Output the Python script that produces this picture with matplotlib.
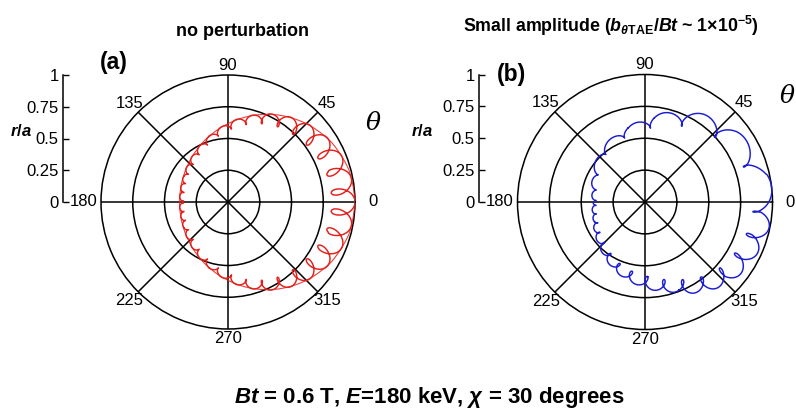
import numpy as np
import matplotlib
matplotlib.use("Agg")
import matplotlib.pyplot as plt

plt.rcParams['font.family'] = ['Liberation Sans', 'DejaVu Sans']
plt.rcParams['mathtext.fontset'] = 'custom'
plt.rcParams['mathtext.rm'] = 'Liberation Sans:bold'
plt.rcParams['mathtext.it'] = 'Liberation Sans:italic:bold'
plt.rcParams['mathtext.bf'] = 'Liberation Sans:bold'
plt.rcParams['path.simplify'] = False

# ---------------- data ----------------
theta_ticks = [0, 45, 90, 135, 180, 225, 270, 315]
r_ticks = [0, 0.25, 0.5, 0.75, 1]
r_tick_labels = ['0', '0.25', '0.5', '0.75', '1']

# (a) no perturbation : outer envelope, gyro radius, gyration step and shape vs theta (deg)
a_theta = [0, 15, 30, 45, 60, 75, 90, 105, 120, 135, 150, 165, 180,
           195, 210, 225, 240, 255, 270, 285, 300, 315, 330, 345]
a_r_out = [1.00, 0.985, 0.941, 0.873, 0.791, 0.702, 0.616, 0.541, 0.481, 0.435, 0.404, 0.386, 0.380,
           0.386, 0.404, 0.435, 0.481, 0.541, 0.616, 0.702, 0.791, 0.873, 0.941, 0.985]
a_rho = [0.090, 0.088, 0.080, 0.065, 0.045, 0.032, 0.026, 0.022, 0.020, 0.018, 0.016, 0.015, 0.015,
         0.015, 0.016, 0.018, 0.020, 0.022, 0.026, 0.032, 0.045, 0.065, 0.080, 0.088]
a_step = [0.17, 0.17, 0.16, 0.15, 0.14, 0.13, 0.125, 0.115, 0.10, 0.09, 0.08, 0.07, 0.07,
          0.07, 0.08, 0.09, 0.10, 0.115, 0.125, 0.13, 0.14, 0.15, 0.16, 0.17]
a_shape = [0.65, 0.65, 0.63, 0.65, 0.72, 0.8, 0.85, 0.9, 0.9, 0.9, 0.9, 0.9, 0.9,
           0.9, 0.9, 0.9, 0.9, 0.9, 0.85, 0.8, 0.72, 0.65, 0.63, 0.65]

# (b) small amplitude
b_theta = [0, 10, 20, 35, 55, 80, 100, 120, 135, 150, 165, 180,
           200, 225, 250, 270, 290, 305, 320, 340, 352]
b_r_out = [1.00, 1.00, 0.97, 0.92, 0.83, 0.70, 0.61, 0.56, 0.52, 0.47, 0.43, 0.41,
           0.43, 0.50, 0.60, 0.67, 0.75, 0.85, 0.93, 0.98, 1.00]
b_rho = [0.075, 0.075, 0.075, 0.07, 0.065, 0.05, 0.035, 0.027, 0.025, 0.022, 0.017, 0.014,
         0.016, 0.025, 0.035, 0.045, 0.05, 0.06, 0.07, 0.075, 0.075]
b_step = [0.40, 0.48, 0.42, 0.35, 0.30, 0.26, 0.22, 0.21, 0.20, 0.16, 0.10, 0.07,
          0.07, 0.10, 0.12, 0.14, 0.15, 0.17, 0.19, 0.20, 0.20]
b_shape = [0.7, 0.85, 1.0, 0.9, 0.85, 0.85, 1.0, 1.2, 1.2, 1.1, 0.9, 0.9,
           0.9, 0.9, 0.9, 0.85, 0.75, 0.68, 0.65, 0.65, 0.65]


def orbit(th_nodes, r_out, rho, step, shape, start_deg, ref_deg, ref_phase):
    u = np.deg2rad(np.linspace(start_deg, start_deg + 360, 30001))
    ud = np.rad2deg(u) % 360
    R = np.interp(ud, th_nodes, r_out, period=360)
    rh = np.interp(ud, th_nodes, rho, period=360)
    sp = np.interp(ud, th_nodes, step, period=360)
    asp = np.interp(ud, th_nodes, shape, period=360)
    rg = R - rh
    gx, gy = rg * np.cos(u), rg * np.sin(u)
    dx, dy = np.gradient(gx), np.gradient(gy)
    ds = np.hypot(dx, dy)
    tx, ty = dx / ds, dy / ds
    nx, ny = ty, -tx
    s = np.cumsum(ds / sp)
    iref = np.argmin(np.abs(((ud - ref_deg + 180) % 360) - 180))
    beta = 2 * np.pi * (s - s[iref]) + ref_phase
    x = gx + rh * np.cos(beta) * nx + asp * rh * np.sin(beta) * tx
    y = gy + rh * np.cos(beta) * ny + asp * rh * np.sin(beta) * ty
    return (x, y), (R * np.cos(u), R * np.sin(u))


fig = plt.figure(figsize=(7.96, 4.12), dpi=100)
W, H = 796.0, 412.0


def polar_panel(cx, cy, rad, color, traj, env, label, label_xy, theta_xy, rax_x):
    rect = [(cx - rad) / W, (H - cy - rad) / H, 2 * rad / W, 2 * rad / H]
    ax = fig.add_axes(rect, projection='polar')
    ax.set_ylim(0, 1)
    ax.set_yticks([0.25, 0.5, 0.75])
    ax.set_yticklabels([])
    ax.set_xticks(np.deg2rad(theta_ticks))
    ax.set_xticklabels([])
    ax.grid(True, color='black', lw=1.1)
    ax.spines['polar'].set_color('black')
    ax.spines['polar'].set_linewidth(1.1)
    ax.tick_params(length=0)
    for t in theta_ticks:
        rr = 1.10
        if t in (0, 180):
            rr = 1.14
        if t in (90, 270):
            rr = 1.075
        ax.text(np.deg2rad(t), rr, str(t), ha='center', va='center',
                fontsize=12, clip_on=False)
    # orbit drawn on a cartesian overlay with the same frame (r/a units)
    cax = fig.add_axes(rect)
    cax.set_xlim(-1, 1)
    cax.set_ylim(-1, 1)
    cax.axis('off')
    cax.patch.set_alpha(0)
    if env is not None:
        cax.plot(env[0], env[1], color=color, lw=0.8, alpha=0.85)
    cax.plot(traj[0], traj[1], color=color, lw=1.05)
    fig.text(label_xy[0] / W, 1 - label_xy[1] / H, label, fontsize=16.5,
             fontweight='bold', ha='center', va='center')
    fig.text(theta_xy[0] / W, 1 - theta_xy[1] / H, r'$\theta$', fontsize=18,
             ha='center', va='center', math_fontfamily='dejavuserif')
    # radial scale bar
    rax = fig.add_axes([rax_x / W, (H - cy) / H, 0.001, rad / H])
    rax.set_ylim(0, 1)
    rax.set_xlim(0, 1)
    for sname in ('top', 'right', 'bottom'):
        rax.spines[sname].set_visible(False)
    rax.spines['left'].set_linewidth(1.1)
    rax.set_xticks([])
    rax.set_yticks(r_ticks)
    rax.set_yticklabels(r_tick_labels, fontsize=12)
    rax.tick_params(axis='y', direction='in', length=4, width=1, pad=3)
    rax.patch.set_alpha(0)
    return ax


traj_a, env_a = orbit(a_theta, a_r_out, a_rho, a_step, a_shape, 180, 0, 0.0)
traj_b, env_b = orbit(b_theta, b_r_out, b_rho, b_step, b_shape, 180, 20.6, np.pi)

polar_panel(228, 202, 127, '#e3201c', traj_a, env_a, '(a)', (114, 62), (373, 123), 63)
polar_panel(645, 202, 127.5, '#1c1cd2', traj_b, None, '(b)', (511, 74), (787, 96), 479)

fig.text(21 / W, 1 - 131 / H, r'$r/a$', fontsize=12, ha='center', va='center')
fig.text(422 / W, 1 - 131 / H, r'$r/a$', fontsize=12, ha='center', va='center')

fig.text(242 / W, 1 - 32 / H, 'no perturbation', fontsize=13, fontweight='bold',
         ha='center', va='center')
fig.text(611 / W, 1 - 26 / H,
         r'Small amplitude ($b_{\theta\mathrm{TAE}}$/$Bt$ ~ 1×10$^{-5}$)',
         fontsize=12.8, fontweight='bold', ha='center', va='center')
fig.text(429 / W, 1 - 397 / H,
         r'$Bt$ = 0.6 T, $E$=180 keV, $\chi$ = 30 degrees',
         fontsize=16, fontweight='bold', ha='center', va='center')

fig.savefig('out.png', dpi=100, facecolor='white')
